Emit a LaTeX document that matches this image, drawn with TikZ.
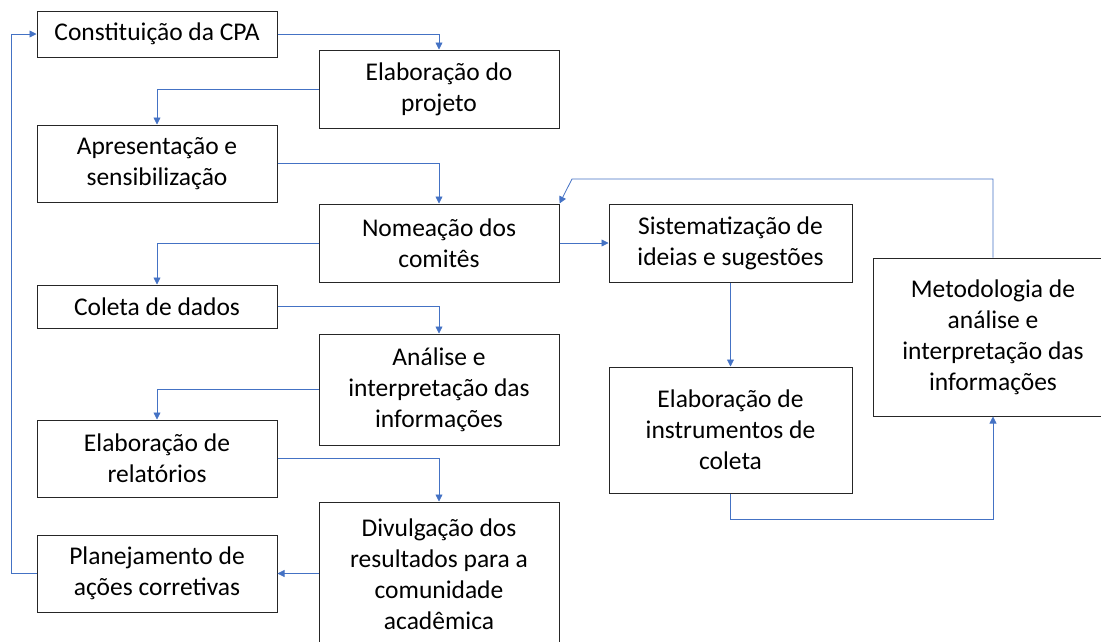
\documentclass[tikz,border=0pt]{standalone}
\usepackage{fontspec}
\setmainfont{Carlito}
\usepackage{xcolor}
\usepackage{tikz}
\usetikzlibrary{positioning, arrows.meta}

\definecolor{linkblue}{HTML}{4472C4}
\tikzset{
  box/.style={draw=black!85, line width=1pt, minimum width=240pt, align=center, inner sep=0pt,
              font=\fontsize{25.5}{31}\selectfont},
  conn/.style={draw=linkblue, line width=0.8pt, -{Triangle[length=7pt, width=7pt]}}
}

\begin{document}
\begin{tikzpicture}[x=1pt, y=-1pt]
  \useasboundingbox (0,0) rectangle (1101,641);

  % left column
  \node[box, minimum height=46pt] (const) at (157,34) {Constituição da CPA};
  \node[box, minimum height=77pt] (apres) at (157,163.5) {Apresentação e\\sensibilização};
  \node[box, minimum height=43pt] (coleta) at (157,306.5) {Coleta de dados};
  \node[box, minimum height=77pt] (relat) at (157,458.5) {Elaboração de\\relatórios};
  \node[box, minimum height=77pt] (planej) at (157,573.5) {Planejamento de\\ações corretivas};

  % middle column
  \node[box, minimum height=78pt] (proj) at (439,89) {Elaboração do\\projeto};
  \node[box, minimum height=78pt] (nomea) at (439,243) {Nomeação dos\\comitês};
  \node[box, minimum height=111pt] (anal) at (439,389.5) {Análise e\\interpretação das\\informações};
  \node[box, minimum height=145pt] (divulg) at (439,574.5) {Divulgação dos\\resultados para a\\comunidade\\acadêmica};

  % right part
  \node[box, minimum width=243pt, minimum height=78pt] (sistem) at (730.5,243) {Sistematização de\\ideias e sugestões};
  \node[box, minimum width=243pt, minimum height=126pt] (instr) at (730.5,430) {Elaboração de\\instrumentos de\\coleta};
  \node[box, minimum height=158pt] (metod) at (993,337) {Metodologia de\\análise e\\interpretação das\\informações};
  \coordinate (bend) at (572,179);

  \draw[conn] (const.east) -| (proj.north);
  \draw[conn] (proj.west) -| (apres.north);
  \draw[conn] (apres.east) -| (nomea.north);
  \draw[conn] (nomea.west) -| (coleta.north);
  \draw[conn] (coleta.east) -| (anal.north);
  \draw[conn] (anal.west) -| (relat.north);
  \draw[conn] (relat.east) -| (divulg.north);
  \draw[conn] (divulg.west |- planej.east) -- (planej.east);
  \draw[conn] (planej.west) -- ++(-25,0) |- (const.west);

  \draw[conn] (nomea.east) -- (sistem.west);
  \draw[conn] (sistem.south) -- (instr.north);
  \draw[conn] (instr.south) -- ++(0,26) -| (metod.south);
  \draw[conn] (metod.north) |- (bend) -- (nomea.north east);
  % \draw[conn] (metod.north) |- (nomea.north east);

\end{tikzpicture}
\end{document}
